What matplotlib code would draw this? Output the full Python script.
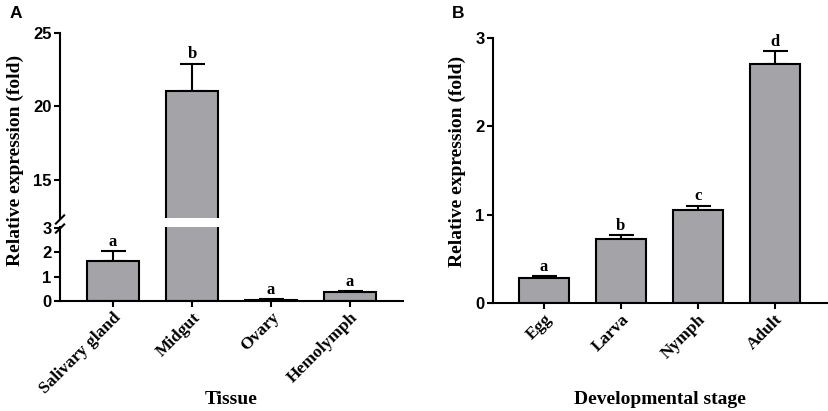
import numpy as np
import matplotlib
matplotlib.use("Agg")
import matplotlib.pyplot as plt

# panel A: tissues
tissues = ["Salivary gland", "Midgut", "Ovary", "Hemolymph"]
tissue_mean = [1.65, 21.05, 0.05, 0.35]
tissue_err = [0.40, 1.85, 0.02, 0.04]
tissue_sig = ["a", "b", "a", "a"]

# panel B: developmental stages
stages = ["Egg", "Larva", "Nymph", "Adult"]
stage_mean = [0.28, 0.73, 1.05, 2.71]
stage_err = [0.02, 0.04, 0.05, 0.14]
stage_sig = ["a", "b", "c", "d"]

BAR = "#a4a4a8"
SERIF = "Liberation Serif"
SANS = "Liberation Sans"
LW = 1.5

fig = plt.figure(figsize=(8.29, 4.11), dpi=100)


def style_axis(ax):
    for s in ["top", "right"]:
        ax.spines[s].set_visible(False)
    for s in ["left", "bottom"]:
        ax.spines[s].set_linewidth(LW)
    ax.tick_params(width=LW, length=4, direction="out", pad=2)
    for lab in ax.get_yticklabels():
        lab.set_fontfamily(SANS)
        lab.set_fontweight("bold")
        lab.set_fontsize(12)


def draw_bars(ax, mean, err):
    x = np.arange(len(mean))
    ax.bar(x, mean, width=0.65, color=BAR, edgecolor="black", linewidth=LW, zorder=2)
    ax.errorbar(x, mean, yerr=[np.zeros(len(err)), err], fmt="none",
                ecolor="black", elinewidth=LW, capsize=9, capthick=LW, zorder=1)
    return x


def letters(ax, x, mean, err, sig):
    for xi, m, e, s in zip(x, mean, err, sig):
        ax.annotate(s, (xi, m + e), xytext=(0, 1), textcoords="offset points",
                    ha="center", va="bottom", fontfamily=SERIF,
                    fontweight="bold", fontsize=12)


# ---- panel A, broken axis ----
left, width = 0.0724, 0.4137
ax_hi = fig.add_axes([left, 0.4696, width, 0.4501])
ax_lo = fig.add_axes([left, 0.2676, width, 0.1800])

for ax in (ax_hi, ax_lo):
    x = draw_bars(ax, tissue_mean, tissue_err)
    ax.set_xlim(-0.67, 3.67)

ax_hi.set_ylim(12.4, 25)
ax_hi.set_yticks([15, 20, 25])
ax_lo.set_ylim(0, 3.03)
ax_lo.set_yticks([0, 1, 2, 3])

ax_hi.spines["bottom"].set_visible(False)
ax_hi.set_xticks([])
ax_lo.set_xticks(x)
ax_lo.set_xticklabels(tissues, rotation=45, ha="right", rotation_mode="anchor",
                      fontfamily=SERIF, fontweight="bold", fontsize=12.5)
style_axis(ax_hi)
style_axis(ax_lo)

# letters: upper axis only for the midgut bar
letters(ax_hi, [1], [tissue_mean[1]], [tissue_err[1]], [tissue_sig[1]])
letters(ax_lo, [0, 2, 3], [tissue_mean[i] for i in (0, 2, 3)],
        [tissue_err[i] for i in (0, 2, 3)], [tissue_sig[i] for i in (0, 2, 3)])

# break marks on the y axis
for yb in (0.466, 0.444):
    fig.lines.append(plt.Line2D([left - 0.005, left + 0.005], [yb - 0.01, yb + 0.01],
                                transform=fig.transFigure, color="black", lw=LW))

fig.text(0.008, 0.61, "Relative expression (fold)", rotation=90, ha="left", va="center",
         fontfamily=SERIF, fontweight="bold", fontsize=14)
fig.text(left + width / 2, 0.027, "Tissue", ha="center", va="center",
         fontfamily=SERIF, fontweight="bold", fontsize=14)
fig.text(0.011, 0.966, "A", ha="left", va="center", fontfamily=SANS,
         fontweight="bold", fontsize=12.5)

# ---- panel B ----
axb = fig.add_axes([0.5947, 0.2628, 0.403, 0.6448])
xb = draw_bars(axb, stage_mean, stage_err)
letters(axb, xb, stage_mean, stage_err, stage_sig)
axb.set_xlim(-0.66, 3.68)
axb.set_ylim(0, 3)
axb.set_yticks([0, 1, 2, 3])
axb.set_xticks(xb)
axb.set_xticklabels(stages, rotation=45, ha="right", rotation_mode="anchor",
                    fontfamily=SERIF, fontweight="bold", fontsize=12.5)
style_axis(axb)
fig.text(0.541, 0.608, "Relative expression (fold)", rotation=90, ha="left", va="center",
         fontfamily=SERIF, fontweight="bold", fontsize=14)
fig.text(0.5947 + 0.403 / 2, 0.027, "Developmental stage", ha="center", va="center",
         fontfamily=SERIF, fontweight="bold", fontsize=14)
fig.text(0.545, 0.966, "B", ha="left", va="center", fontfamily=SANS,
         fontweight="bold", fontsize=12.5)

fig.savefig("out.png", dpi=100)
